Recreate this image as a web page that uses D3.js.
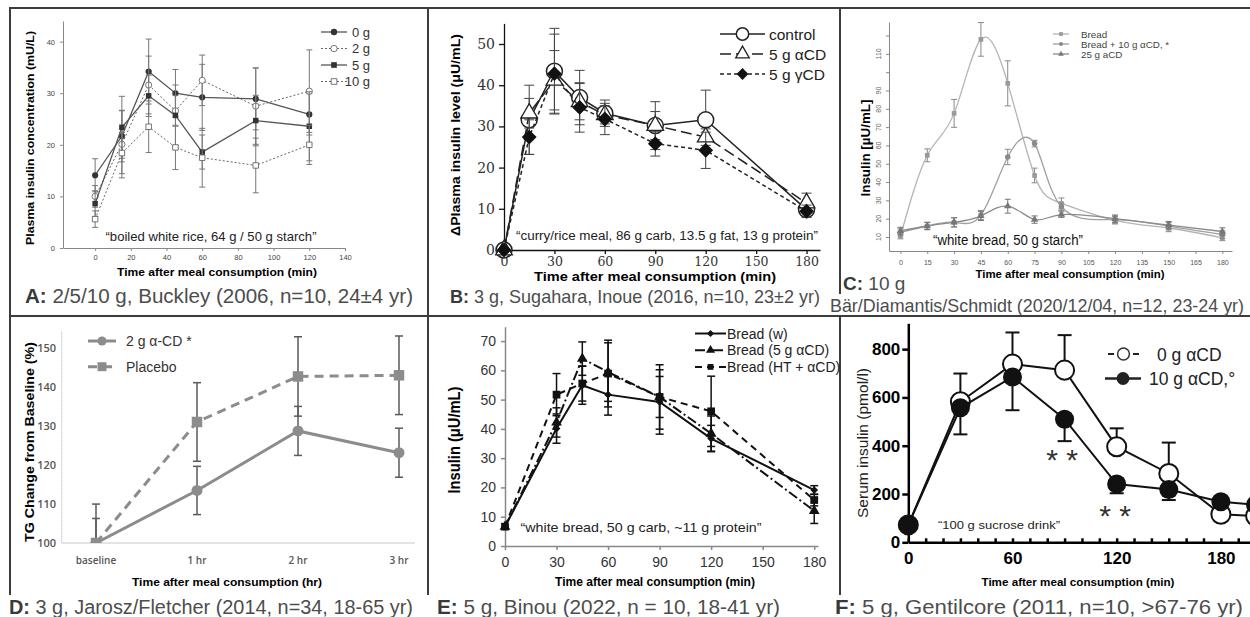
<!DOCTYPE html>
<html>
<head>
<meta charset="utf-8">
<script src="https://d3js.org/d3.v7.min.js"></script>
<style>
body{margin:0;background:#fff;}
svg{display:block;font-family:"Liberation Sans",Arial,Helvetica,sans-serif;}
</style>
</head>
<body>
<svg id="chart" width="1250" height="617"></svg>
<script>
// ---------- data ----------
// A: Buckley 2006
var timeA = [0, 15, 30, 45, 60, 90, 120];
var namesA = ["0 g", "2 g", "5 g", "10 g"];
var a0g = [14.1, 21.7, 34.2, 30.0, 29.2, 28.9, 25.9];
var a0gErr = [3.2, 5.0, 6.3, 4.6, 6.4, 6.0, 4.0];
var a2g = [10.0, 20.1, 31.6, 26.6, 32.5, 27.5, 30.4];
var a2gErr = [2.1, 6.5, 5.6, 3.0, 4.9, 7.4, 8.0];
var a5g = [8.6, 23.4, 29.5, 25.7, 18.6, 24.7, 23.6];
var a5gErr = [2.5, 6.0, 4.0, 5.9, 3.3, 4.9, 6.7];
var a10g = [5.6, 18.4, 23.5, 19.5, 17.5, 16.0, 20.0];
var a10gErr = [1.6, 4.0, 5.0, 4.3, 5.7, 5.3, 3.8];
var xTicksA = [0, 20, 40, 60, 80, 100, 120, 140];
var yTicksA = [0, 10, 20, 30, 40];

// B: Sugahara 2016
var timeB = [0, 15, 30, 45, 60, 90, 120, 180];
var namesB = ["control", "5 g αCD", "5 g γCD"];
var bControl = [0, 31.6, 43.4, 37.0, 33.2, 30.2, 31.6, 9.8];
var bControlErr = [0, 8.4, 10.4, 6.6, 3.2, 5.8, 7.2, 1.5];
var bAlpha = [0, 33.2, 41.2, 36.0, 32.8, 30.2, 27.4, 11.4];
var bAlphaErr = [0, 3.6, 7.2, 4.4, 2.2, 3.4, 2.0, 2.4];
var bGamma = [0, 27.4, 42.8, 34.6, 31.8, 25.8, 24.2, 9.4];
var bGammaErr = [0, 4.2, 9.6, 6.0, 3.8, 3.0, 4.4, 1.5];
var xTicksB = [0, 30, 60, 90, 120, 150, 180];
var yTicksB = [0, 10, 20, 30, 40, 50];

// C: Bär/Diamantis/Schmidt 2020
var timeC = [0, 15, 30, 45, 60, 75, 90, 120, 150, 180];
var namesC = ["Bread", "Bread + 10 g αCD, *", "25 g aCD"];
var cBread = [10.5, 54.6, 77.5, 117.9, 93.9, 43.6, 28.3, 19.1, 14.9, 9.5];
var cBreadErr = [1.5, 3.5, 7.6, 9.2, 12.3, 4.0, 3.0, 2.0, 2.0, 1.5];
var cBreadCD = [12.5, 16, 18, 22, 53.7, 61, 26.5, 19.5, 15.9, 11.3];
var cBreadCDErr = [2, 2, 2.5, 2.5, 4.2, 1.8, 2, 2, 2, 2];
var c25 = [13.3, 16, 18, 21.5, 26.8, 19.5, 22.2, 20, 16.5, 13];
var c25Err = [2, 2, 2.5, 2.5, 3.8, 2, 1.5, 2, 2, 2];
var xTicksC = [0, 15, 30, 45, 60, 75, 90, 105, 120, 135, 150, 165, 180];
var yTicksC = [10, 20, 30, 40, 50, 60, 70, 80, 90, 100, 110, 120];
var yLabelsC = [10, 20, 30, 40, 50, 60, 70, 80, 90, 110];

// D: Jarosz/Fletcher 2014
var catsD = ["baseline", "1 hr", "2 hr", "3 hr"];
var namesD = ["2 g α-CD *", "Placebo"];
var dAlpha = [100, 113.5, 128.8, 123.2];
var dAlphaErr = [6.3, 6.2, 6.3, 6.3];
var dPlacebo = [100, 131.1, 142.8, 143.1];
var dPlaceboErr = [10, 10.1, 10.2, 10.1];
var yTicksD = [100, 110, 120, 130, 140, 150];

// E: Binou 2022
var timeE = [0, 30, 45, 60, 90, 120, 180];
var namesE = ["Bread (w)", "Bread (5 g αCD)", "Bread (HT + αCD)"];
var eW = [6.6, 40.1, 54.9, 51.7, 49.2, 36.7, 19.1];
var eWErr = [0, 5, 6.5, 7, 11, 4.5, 1.5];
var eA = [6.6, 42.2, 64.0, 59.4, 50.9, 38.4, 12.0];
var eAErr = [0, 5, 5.7, 10, 11, 6, 4.3];
var eHT = [6.6, 51.7, 55.5, 58.9, 50.9, 46.0, 15.7];
var eHTErr = [0, 7.2, 6, 11.4, 7, 12, 2];
var xTicksE = [0, 30, 60, 90, 120, 150, 180];
var yTicksE = [0, 10, 20, 30, 40, 50, 60, 70];

// F: Gentilcore 2011
var timeF = [0, 30, 60, 90, 120, 150, 180, 200];
var namesF = ["0 g αCD", "10 g αCD,°"];
var f0 = [72, 582, 738, 713, 396, 285, 116, 109];
var f0Err = [0, 117, 131, 145, 76, 128, 0, 0];
var f10 = [72, 557, 685, 510, 241, 219, 168, 156];
var f10Err = [0, 110, 138, 91, 38, 44, 0, 0];
var xTicksF = [0, 60, 120, 180];
var yTicksF = [0, 200, 400, 600, 800];

// ---------- helpers ----------
var svg = d3.select("#chart");
svg.append("rect").attr("width", 1250).attr("height", 617).attr("fill", "#fff");

function shape(name, size) {
  var t = {circle: d3.symbolCircle, square: d3.symbolSquare, triangle: d3.symbolTriangle, diamond: d3.symbolSquare}[name];
  return d3.symbol().type(t).size(size)();
}
function marker(g, name, x, y, size, fill, stroke, sw) {
  g.append("path").attr("d", shape(name, size))
    .attr("transform", "translate(" + x + "," + y + ")" + (name == "diamond" ? " rotate(45)" : ""))
    .attr("fill", fill).attr("stroke", stroke || "none").attr("stroke-width", sw || 0);
}
function series(g, xs, vals, errs, sx, sy, o) {
  if (errs) {
    xs.forEach(function (t, i) {
      var e = errs[i];
      if (!e) return;
      var px = sx(t),
        top = o.errDir == "down" ? sy(vals[i]) : sy(vals[i] + e),
        bot = o.errDir == "up" ? sy(vals[i]) : sy(vals[i] - e);
      var eg = g.append("g").attr("stroke", o.errColor || o.color).attr("stroke-width", o.errWidth || 1);
      eg.append("line").attr("x1", px).attr("x2", px).attr("y1", top).attr("y2", bot);
      if (o.errDir != "down") eg.append("line").attr("x1", px - o.cap).attr("x2", px + o.cap).attr("y1", top).attr("y2", top);
      if (o.errDir != "up") eg.append("line").attr("x1", px - o.cap).attr("x2", px + o.cap).attr("y1", bot).attr("y2", bot);
    });
  }
  var line = d3.line()
    .x(function (d) { return sx(d[0]); })
    .y(function (d) { return sy(d[1]); })
    .curve(o.curve || d3.curveLinear);
  g.append("path").attr("d", line(xs.map(function (t, i) { return [t, vals[i]]; })))
    .attr("fill", "none").attr("stroke", o.color).attr("stroke-width", o.width)
    .attr("stroke-dasharray", o.dash || null);
  xs.forEach(function (t, i) {
    marker(g, o.sym, sx(t), sy(vals[i]), o.size, o.fill, o.stroke, o.sw);
  });
}
function legendRow(g, x1, x2, y, o, lsize) {
  g.append("line").attr("x1", x1).attr("x2", x2).attr("y1", y).attr("y2", y)
    .attr("stroke", o.color).attr("stroke-width", o.width).attr("stroke-dasharray", o.dash || null);
  marker(g, o.sym, (x1 + x2) / 2, y, lsize || o.size, o.fill, o.stroke, o.sw);
}
function label(g, x, y, str, o) {
  var t = g.append("text").attr("x", x).attr("y", y).text(str)
    .attr("font-size", o.size).attr("fill", o.color || "#000")
    .attr("text-anchor", o.anchor || "start");
  if (o.bold) t.attr("font-weight", "bold");
  if (o.font) t.attr("font-family", o.font);
  if (o.len) t.attr("textLength", o.len).attr("lengthAdjust", "spacingAndGlyphs");
  if (o.rotate) t.attr("transform", "rotate(-90," + x + "," + y + ")");
  return t;
}
function styleAxis(sel, color, width, fs, fill, font) {
  sel.attr("font-size", fs).attr("font-family", font || null);
  sel.select(".domain").attr("stroke", color).attr("stroke-width", width);
  sel.selectAll(".tick line").attr("stroke", color).attr("stroke-width", width);
  sel.selectAll(".tick text").attr("fill", fill);
}

// ---------- frame ----------
var frame = svg.append("g").attr("stroke", "#3c3c3c").attr("stroke-width", 2);
frame.append("line").attr("x1", 10).attr("x2", 1250).attr("y1", 8).attr("y2", 8);
frame.append("line").attr("x1", 10).attr("x2", 1250).attr("y1", 316).attr("y2", 316);
frame.append("line").attr("x1", 10).attr("x2", 10).attr("y1", 7).attr("y2", 595);
frame.append("line").attr("x1", 428).attr("x2", 428).attr("y1", 7).attr("y2", 595);
frame.append("line").attr("x1", 840).attr("x2", 840).attr("y1", 7).attr("y2", 294);
frame.append("line").attr("x1", 840).attr("x2", 840).attr("y1", 316).attr("y2", 595);

// ---------- panel A ----------
var xA = d3.scaleLinear().domain([-18, 140]).range([63, 345]);
var yA = d3.scaleLinear().domain([0, 44]).range([248, 21]);
var gA = svg.append("g");
gA.append("g").attr("transform", "translate(0,248)")
  .call(d3.axisBottom(xA).tickValues(xTicksA).tickSize(3).tickSizeOuter(0).tickPadding(4))
  .call(styleAxis, "#888", 1, 7.5, "#444");
gA.append("g").attr("transform", "translate(63,0)")
  .call(d3.axisLeft(yA).tickValues(yTicksA).tickSize(3).tickSizeOuter(0).tickPadding(5))
  .call(styleAxis, "#888", 1, 7.5, "#444");
var styA = [
  {color: "#555", width: 1.3, sym: "circle", size: 30, fill: "#333", errColor: "#777", cap: 3},
  {color: "#666", width: 1, dash: "2,2", sym: "circle", size: 30, fill: "#fff", stroke: "#555", sw: 0.8, errColor: "#777", cap: 3},
  {color: "#555", width: 1.3, sym: "square", size: 30, fill: "#333", errColor: "#777", cap: 3},
  {color: "#666", width: 1, dash: "2,2", sym: "square", size: 30, fill: "#fff", stroke: "#555", sw: 0.8, errColor: "#777", cap: 3}
];
series(gA, timeA, a0g, a0gErr, xA, yA, styA[0]);
series(gA, timeA, a2g, a2gErr, xA, yA, styA[1]);
series(gA, timeA, a5g, a5gErr, xA, yA, styA[2]);
series(gA, timeA, a10g, a10gErr, xA, yA, styA[3]);
namesA.forEach(function (n, i) {
  var y = 32 + i * 16.5;
  legendRow(gA, 321, 347, y, styA[i], 32);
  label(gA, 370, y + 4.5, n, {size: 13, color: "#333", anchor: "end"});
});
label(gA, 211, 241, "\u201cboiled white rice, 64 g / 50 g starch\u201d", {size: 13, color: "#222", anchor: "middle", len: 211});
label(gA, 217, 276, "Time after meal consumption (min)", {size: 11.5, bold: true, anchor: "middle", len: 200});
label(gA, 34, 138, "Plasma insulin concentration (mU/L)", {size: 11, bold: true, anchor: "middle", len: 214, rotate: true});

// ---------- panel B ----------
var xB = d3.scaleLinear().domain([0, 188]).range([504, 820]);
var yB = d3.scaleLinear().domain([0, 55]).range([250, 23.4]);
var gB = svg.append("g");
gB.append("g").attr("transform", "translate(0,250)")
  .call(d3.axisBottom(xB).tickValues(xTicksB).tickSize(4).tickSizeOuter(0).tickPadding(3))
  .call(styleAxis, "#111", 1.3, 12.5, "#333", "'DejaVu Serif',serif");
gB.append("g").attr("transform", "translate(504,0)")
  .call(d3.axisLeft(yB).tickValues(yTicksB).tickSize(5).tickSizeOuter(0).tickPadding(4))
  .call(styleAxis, "#111", 1.3, 14, "#333", "'DejaVu Serif',serif");
var styB = [
  {color: "#222", width: 1.5, sym: "circle", size: 200, fill: "#fff", stroke: "#222", sw: 1.5, errColor: "#444", cap: 5},
  {color: "#222", width: 1.5, dash: "11,5", sym: "triangle", size: 120, fill: "#fff", stroke: "#222", sw: 1.3, errColor: "#444", cap: 5},
  {color: "#222", width: 1.5, dash: "4,3", sym: "diamond", size: 110, fill: "#111", errColor: "#444", cap: 5}
];
series(gB, timeB, bControl, bControlErr, xB, yB, styB[0]);
series(gB, timeB, bAlpha, bAlphaErr, xB, yB, styB[1]);
series(gB, timeB, bGamma, bGammaErr, xB, yB, styB[2]);
var legSizeB = [120, 80, 70];
namesB.forEach(function (n, i) {
  var y = 34 + i * 20;
  legendRow(gB, 720, 765, y, styB[i], legSizeB[i]);
  label(gB, 769, y + 5.5, n, {size: 15.5, color: "#222"});
});
label(gB, 667, 240, "\u201ccurry/rice meal, 86 g carb, 13.5 g fat, 13 g protein\u201d", {size: 12.5, color: "#222", anchor: "middle", len: 302});
label(gB, 655, 281, "Time after meal consumption (min)", {size: 12, bold: true, anchor: "middle", len: 242});
label(gB, 460, 135, "\u0394Plasma insulin level (\u03bcU/mL)", {size: 12.5, bold: true, anchor: "middle", len: 202, rotate: true});

// ---------- panel C ----------
var xC = d3.scaleLinear().domain([-6.4, 185.4]).range([889, 1232]);
var yC = d3.scaleLinear().domain([2.35, 127.4]).range([251, 22]);
var gC = svg.append("g");
gC.append("g").attr("transform", "translate(0,251)")
  .call(d3.axisBottom(xC).tickValues(xTicksC).tickSize(3).tickSizeOuter(0).tickPadding(6))
  .call(styleAxis, "#888", 1, 7, "#555");
gC.append("g").attr("transform", "translate(889,0)")
  .call(d3.axisLeft(yC).tickValues(yTicksC).tickSize(3).tickSizeOuter(0).tickFormat(""))
  .call(styleAxis, "#888", 1, 7, "#555");
yLabelsC.forEach(function (v) {
  label(gC, 881, yC(v), String(v), {size: 7, color: "#666", anchor: "middle", rotate: true});
});
var styC = [
  {color: "#b4b4b4", width: 1.3, sym: "square", size: 22, fill: "#999", errColor: "#888", cap: 3, curve: d3.curveNatural},
  {color: "#a0a0a0", width: 1.3, sym: "circle", size: 24, fill: "#8a8a8a", errColor: "#888", cap: 3, curve: d3.curveNatural},
  {color: "#8a8a8a", width: 1.3, sym: "triangle", size: 24, fill: "#777", errColor: "#777", cap: 3, curve: d3.curveNatural}
];
series(gC, timeC, cBread, cBreadErr, xC, yC, styC[0]);
series(gC, timeC, cBreadCD, cBreadCDErr, xC, yC, styC[1]);
series(gC, timeC, c25, c25Err, xC, yC, styC[2]);
namesC.forEach(function (n, i) {
  var y = 34 + i * 10;
  legendRow(gC, 1053, 1069, y, styC[i], 14);
  label(gC, 1081, y + 3.5, n, {size: 9.8, color: "#444"});
});
label(gC, 1008, 245, "\u201cwhite bread, 50 g starch\u201d", {size: 14, color: "#111", anchor: "middle", len: 150});
label(gC, 1070, 278, "Time after meal consumption (min)", {size: 11, bold: true, anchor: "middle", len: 189});
label(gC, 870, 148, "Insulin [\u00b5U/mL]", {size: 13, bold: true, anchor: "middle", len: 97, rotate: true});

// ---------- panel D ----------
var xD = d3.scalePoint().domain(catsD).range([96, 399]);
var yD = d3.scaleLinear().domain([100, 154.3]).range([543, 331.7]);
var gD = svg.append("g");
svg.append("clipPath").attr("id", "clipD").append("rect")
  .attr("x", 40).attr("y", 320).attr("width", 380).attr("height", 223);
gD.append("line").attr("x1", 61.7).attr("x2", 61.7).attr("y1", 331.7).attr("y2", 543)
  .attr("stroke", "#aaa").attr("stroke-dasharray", "1,1");
gD.append("line").attr("x1", 61.7).attr("x2", 415).attr("y1", 543).attr("y2", 543).attr("stroke", "#c8c8c8");
yTicksD.forEach(function (v) {
  label(gD, 56, yD(v) + 4, String(v), {size: 11, color: "#555", anchor: "end", font: "'Open Sans',sans-serif"}).attr("font-weight", 600);
});
catsD.forEach(function (c) {
  label(gD, xD(c), 564, c, {size: 10, color: "#555", anchor: "middle", font: "'Open Sans',sans-serif"}).attr("font-weight", 600);
});
var plotD = gD.append("g").attr("clip-path", "url(#clipD)");
var styD = [
  {color: "#8c8c8c", width: 3, sym: "circle", size: 95, fill: "#8c8c8c", errColor: "#5a5a5a", errWidth: 1.5, cap: 4},
  {color: "#8c8c8c", width: 3, dash: "9,6", sym: "square", size: 110, fill: "#8c8c8c", errColor: "#5a5a5a", errWidth: 1.5, cap: 4}
];
series(plotD, catsD, dAlpha, dAlphaErr, xD, yD, styD[0]);
series(plotD, catsD, dPlacebo, dPlaceboErr, xD, yD, styD[1]);
namesD.forEach(function (n, i) {
  var y = 341 + i * 25.7;
  legendRow(gD, 88, 116, y, styD[i], i ? 80 : 65);
  label(gD, 126, y + 5, n, {size: 14, color: "#333"});
});
label(gD, 227, 586, "Time after meal consumption (hr)", {size: 11.5, bold: true, anchor: "middle", len: 190});
label(gD, 34, 442, "TG Change from Baseline (%)", {size: 12, bold: true, anchor: "middle", len: 200, rotate: true});

// ---------- panel E ----------
var xE = d3.scaleLinear().domain([0, 182.2]).range([505, 818]);
var yE = d3.scaleLinear().domain([0, 74.9]).range([546, 326.7]);
var gE = svg.append("g");
gE.append("g").attr("transform", "translate(0,546)")
  .call(d3.axisBottom(xE).tickValues(xTicksE).tickSize(4).tickSizeOuter(0).tickPadding(7))
  .call(styleAxis, "#888", 1.5, 14, "#333");
gE.append("g").attr("transform", "translate(505,0)")
  .call(d3.axisLeft(yE).tickValues(yTicksE).tickSize(4).tickSizeOuter(0).tickPadding(5))
  .call(styleAxis, "#888", 1.5, 14, "#333");
var styE = [
  {color: "#111", width: 2, sym: "diamond", size: 30, fill: "#111", errColor: "#111", errWidth: 1.5, cap: 4},
  {color: "#111", width: 2, dash: "10,3,2,3", sym: "triangle", size: 50, fill: "#111", errColor: "#111", errWidth: 1.5, cap: 4},
  {color: "#111", width: 2, dash: "7,5", sym: "square", size: 60, fill: "#111", errColor: "#111", errWidth: 1.5, cap: 4}
];
series(gE, timeE, eW, eWErr, xE, yE, styE[0]);
series(gE, timeE, eA, eAErr, xE, yE, styE[1]);
series(gE, timeE, eHT, eHTErr, xE, yE, styE[2]);
namesE.forEach(function (n, i) {
  var y = 333.5 + i * 16.7;
  legendRow(gE, 695, 726, y, styE[i], [24, 36, 34][i]);
  label(gE, 727, y + 5, n, {size: 14, color: "#222"});
});
label(gE, 641, 532, "\u201cwhite bread, 50 g carb, ~11 g   protein\u201d", {size: 13.5, color: "#222", anchor: "middle", len: 241});
label(gE, 655, 586, "Time after meal consumption (min)", {size: 12, bold: true, anchor: "middle", len: 200});
label(gE, 460, 440, "Insulin (\u03bcU/mL)", {size: 16, bold: true, anchor: "middle", len: 107, rotate: true});

// ---------- panel F ----------
var xF = d3.scaleLinear().domain([0, 200]).range([908.3, 1255.6]);
var yF = d3.scaleLinear().domain([0, 907]).range([542.3, 323.3]);
var gF = svg.append("g");
var minorF = d3.range(0, 201, 10);
gF.append("g").attr("transform", "translate(0,542.3)")
  .call(d3.axisBottom(xF).tickValues(minorF).tickSize(-4).tickSizeOuter(0).tickPadding(10)
    .tickFormat(function (d) { return xTicksF.indexOf(d) >= 0 ? d : ""; }))
  .call(styleAxis, "#000", 2.5, 17, "#000")
  .attr("font-weight", "bold");
gF.append("g").attr("transform", "translate(908.3,0)")
  .call(d3.axisLeft(yF).tickValues(yTicksF).tickSize(6).tickSizeOuter(0).tickPadding(2))
  .call(styleAxis, "#000", 2.5, 17, "#000")
  .attr("font-weight", "bold");
var styF = [
  {color: "#111", width: 2, sym: "circle", size: 285, fill: "#fff", stroke: "#111", sw: 2, errColor: "#111", errWidth: 2, cap: 7, errDir: "up"},
  {color: "#111", width: 2, sym: "circle", size: 285, fill: "#111", errColor: "#111", errWidth: 2, cap: 7, errDir: "down"}
];
series(gF, timeF, f0, f0Err, xF, yF, styF[0]);
series(gF, timeF, f10, f10Err, xF, yF, styF[1]);
legendRow(gF, 1108, 1139, 354, {color: "#222", width: 2, dash: "6,19,6", sym: "circle", fill: "#fff", stroke: "#333", sw: 1.5}, 110);
legendRow(gF, 1105, 1141, 378.5, {color: "#222", width: 2.5, sym: "circle", fill: "#222"}, 130);
label(gF, 1157, 360.5, namesF[0], {size: 17.5, color: "#222"});
label(gF, 1149, 385, namesF[1], {size: 17.5, color: "#222"});
label(gF, 1062, 470, "* *", {size: 30, color: "#333", anchor: "middle"});
label(gF, 1115, 526, "* *", {size: 30, color: "#333", anchor: "middle"});
label(gF, 999, 529, "\u201c100 g sucrose drink\u201d", {size: 11, color: "#222", anchor: "middle", len: 122});
label(gF, 1078, 586, "Time after meal consumption (min)", {size: 11, bold: true, anchor: "middle", len: 193});
label(gF, 868, 443, "Serum insulin (pmol/l)", {size: 14, color: "#222", anchor: "middle", len: 150, rotate: true});

// ---------- panel captions ----------
function caption(x, y, head, rest, len, fs) {
  var t = svg.append("text").attr("x", x).attr("y", y).attr("font-size", fs || 20).attr("fill", "#4d4d4d");
  if (head) t.append("tspan").attr("font-weight", "bold").attr("fill", "#3a3a3a").text(head);
  t.append("tspan").text(rest);
  if (len) t.attr("textLength", len).attr("lengthAdjust", "spacingAndGlyphs");
}
svg.append("rect").attr("x", 829).attr("y", 296).attr("width", 421).attr("height", 18).attr("fill", "#fff");
caption(25, 303, "A:", " 2/5/10 g, Buckley (2006, n=10, 24\u00b14 yr)", 388);
caption(450, 303, "B:", " 3 g, Sugahara, Inoue (2016, n=10, 23\u00b12 yr)", 370, 18.2);
caption(843, 290, "C:", " 10 g", null, 19);
caption(830, 311.5, "", "B\u00e4r/Diamantis/Schmidt (2020/12/04, n=12, 23-24 yr)", 414, 17.8);
caption(9, 613.5, "D:", "   3 g, Jarosz/Fletcher (2014, n=34, 18-65 yr)", 404);
caption(437, 613.5, "E:", " 5 g, Binou (2022,  n = 10, 18-41 yr)", 343);
caption(835, 613.5, "F:", " 5 g, Gentilcore (2011, n=10, >67-76 yr)", 408);
</script>
</body>
</html>
